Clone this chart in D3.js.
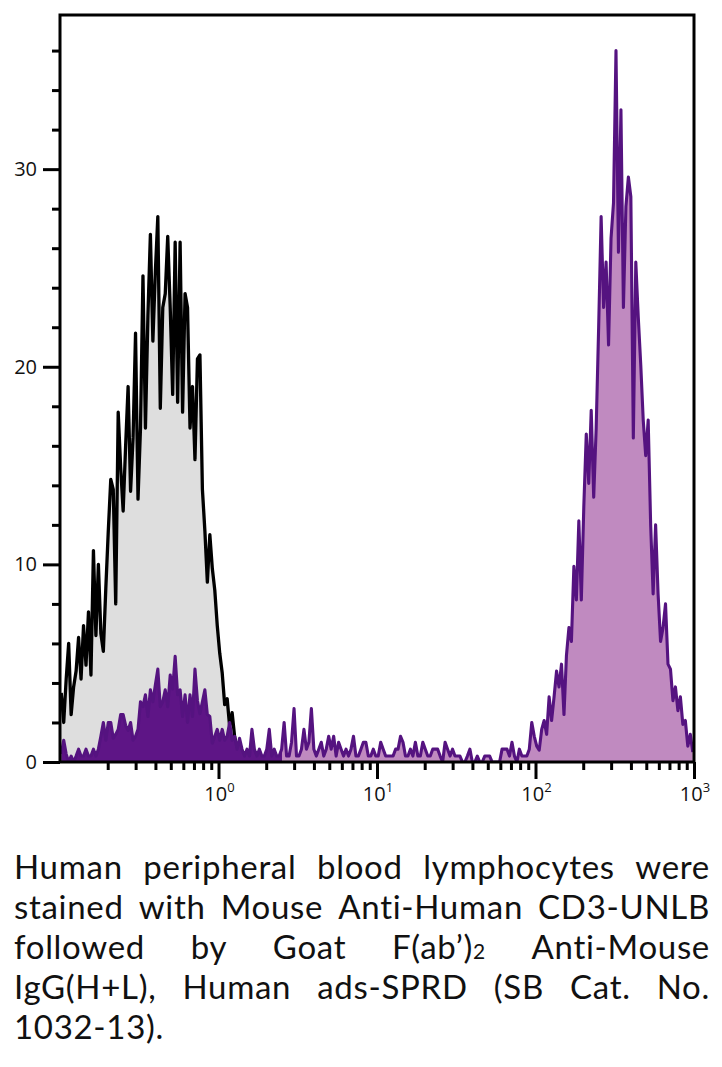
<!DOCTYPE html>
<html><head><meta charset="utf-8">
<script src="https://cdn.jsdelivr.net/npm/d3@7"></script>
<style>body{margin:0;background:#fff} svg{display:block}</style>
</head><body>
<script>
// ---- data ----
const binsPerDecade = 64;
const xDomain = [0.1, 1000];
const yDomain = [0, 37.8];
const yMajorTicks = [0, 10, 20, 30];
const yMinorTicks = [2, 4, 6, 8, 12, 14, 16, 18, 22, 24, 26, 28, 32, 34, 36];
const xMajorTicks = [1, 10, 100, 1000];
const xMajorExponents = ["0", "1", "2", "3"];
const xMinorTicks = [0.2,0.3,0.4,0.5,0.6,0.7,0.8,0.9, 2,3,4,5,6,7,8,9, 20,30,40,50,60,70,80,90, 200,300,400,500,600,700,800,900];

// isotype control (black outline, grey fill), counts per bin from the left edge
const controlCounts = [
 3.5,2.0,4.2,6.0,2.4,3.8,4.6,6.3,4.2,6.9,
 4.9,7.6,4.4,10.7,6.4,10.0,6.5,5.6,8.8,11.7,
 14.3,13.8,8.0,17.7,14.9,12.7,16.0,19.0,13.7,16.4,
 21.7,13.3,16.9,24.6,16.9,22.6,26.7,21.3,24.8,27.6,
 17.9,23.0,23.7,26.6,23.0,18.6,26.3,18.2,26.3,17.7,
 23.7,23.0,16.9,19.0,15.3,20.4,20.6,13.8,11.7,9.1,
 11.5,9.8,8.7,6.9,5.5,4.5,2.9,3.2,1.8,2.5,
 1.3,0.7,0
];
// CD3 stained (purple)
const stainedCounts = [
 0.4,1.1,0.4,0,0.3,0,0.3,0.65,0.3,0.3,
 0.65,0.3,0.3,0.65,0.3,0.65,1.3,2.0,1.1,2.0,
 2.0,1.2,1.4,1.65,2.4,2.4,1.85,1.6,2.0,1.1,
 1.3,1.65,3.05,2.8,3.4,2.3,3.65,3.05,3.9,4.7,
 2.8,3.05,3.65,2.8,4.4,3.7,5.35,3.4,3.65,2.3,
 3.4,2.0,3.4,2.3,4.7,3.1,2.45,3.05,3.65,2.4,
 2.3,0.95,1.3,1.65,1.1,1.65,1.1,1.3,2.0,1.1,
 1.3,0.65,1.2,0.65,0.3,0.65,0.3,1.65,0.65,0.3,
 0.65,0.3,0.3,0.65,1.65,0.3,0.65,0.3,0.3,0.65,
 2.0,0.3,0.3,1.0,2.7,0.3,0.3,0.65,1.65,0.65,
 1.0,2.7,0.65,0.3,0.65,1.0,0.3,0.65,1.3,0.65,
 1.3,0.3,1.0,0.65,0.3,0.65,0.3,0.65,1.3,0.3,
 0.3,0.65,1.0,1.0,0.3,0.3,0.65,0.3,0.3,1.0,
 0.65,0.3,0.3,0.3,0.3,0.65,0.65,1.3,1.0,0.3,
 0.3,0.65,0.3,1.0,0.3,0.3,1.0,0.65,0.3,0.3,
 0.65,0.65,0.65,0.3,0,1.0,0.65,0.3,0.65,0.3,
 0.3,0.3,0,0,0.3,0.65,0,0,0.3,0,
 0,0.3,0.3,0.3,0,0,0,0,0.65,0.65,
 0.65,0.3,1.0,0.3,0,0.65,0.3,0.3,0.3,0.65,
 2.0,1.3,0.8,0.6,1.65,2.1,1.4,3.3,2.1,3.3,
 4.6,3.8,4.95,2.4,5.4,6.8,6.1,9.9,8.2,12.2,
 8.2,12.9,16.6,14.1,17.8,13.4,16.9,22.0,27.6,23.0,
 25.3,21.1,26.5,28.3,36.0,25.8,33.0,23.0,28.1,29.6,
 28.6,16.4,25.3,22.5,20.1,17.3,15.5,17.3,12.0,8.5,
 12.0,8.5,6.1,6.8,8.0,4.95,4.7,3.1,3.8,2.6,
 3.3,1.9,2.1,0.8,1.4,0.5
];

const captionLines = [
 "Human peripheral blood lymphocytes were",
 "stained with Mouse Anti-Human CD3-UNLB",
 "followed by Goat F(ab\u2019)\u2082 Anti-Mouse",
 "IgG(H+L), Human ads-SPRD (SB Cat. No.",
 "1032-13)."
];

// ---- drawing ----
const W = 722, H = 1067;
const FONT = "'Open Sans', 'Noto Sans', sans-serif";
const CAPFONT = "Lato, 'Open Sans', sans-serif";
const svg = d3.select("body").append("svg").attr("width", W).attr("height", H);

const plot = {left: 60, right: 694, top: 15, bottom: 762};
const x = d3.scaleLog().domain(xDomain).range([plot.left, plot.right]);
const y = d3.scaleLinear().domain(yDomain).range([plot.bottom, plot.top]);
const binCenter = i => xDomain[0] * Math.pow(10, (i + 0.5) / binsPerDecade);

const defs = svg.append("defs");
defs.append("clipPath").attr("id", "clip").append("rect")
  .attr("x", plot.left).attr("y", plot.top)
  .attr("width", plot.right - plot.left).attr("height", plot.bottom - plot.top);
const grad = defs.append("linearGradient").attr("id", "pfill")
  .attr("gradientUnits", "userSpaceOnUse")
  .attr("x1", plot.left).attr("x2", plot.right).attr("y1", 0).attr("y2", 0);
const split = (x(2.5) - plot.left) / (plot.right - plot.left);
grad.append("stop").attr("offset", 0).attr("stop-color", "#5e1586");
grad.append("stop").attr("offset", split).attr("stop-color", "#5e1586");
grad.append("stop").attr("offset", split).attr("stop-color", "#c08ac0");
grad.append("stop").attr("offset", 1).attr("stop-color", "#c08ac0");

const area = d3.area().x((d, i) => x(binCenter(i))).y0(y(0)).y1(d => y(d));
const line = d3.line().x((d, i) => x(binCenter(i))).y(d => y(d));

const g = svg.append("g").attr("clip-path", "url(#clip)");
g.append("path").datum(controlCounts).attr("d", area).attr("fill", "#dedede");
g.append("path").datum(controlCounts).attr("d", line).attr("fill", "none")
  .attr("stroke", "#000").attr("stroke-width", 3.3).attr("stroke-linejoin", "round");
g.append("path").datum(stainedCounts).attr("d", area).attr("fill", "url(#pfill)");
g.append("path").datum(stainedCounts).attr("d", line).attr("fill", "none")
  .attr("stroke", "#551380").attr("stroke-width", 3.1).attr("stroke-linejoin", "round");

// frame
svg.append("rect").attr("x", plot.left).attr("y", plot.top)
  .attr("width", plot.right - plot.left).attr("height", plot.bottom - plot.top)
  .attr("fill", "none").attr("stroke", "#000").attr("stroke-width", 3);

// y axis
const yMaj = svg.append("g").attr("transform", `translate(${plot.left},0)`)
  .call(d3.axisLeft(y).tickValues(yMajorTicks).tickSize(17).tickPadding(6).tickFormat(d3.format("d")));
const yMin = svg.append("g").attr("transform", `translate(${plot.left},0)`)
  .call(d3.axisLeft(y).tickValues(yMinorTicks).tickSize(8).tickFormat(""));
// x axis
const xMaj = svg.append("g").attr("transform", `translate(0,${plot.bottom})`)
  .call(d3.axisBottom(x).tickValues(xMajorTicks).tickSize(17).tickFormat(""));
const xMin = svg.append("g").attr("transform", `translate(0,${plot.bottom})`)
  .call(d3.axisBottom(x).tickValues(xMinorTicks).tickSize(8).tickFormat(""));
[yMaj, yMin, xMaj, xMin].forEach(a => {
  a.select(".domain").remove();
  a.selectAll(".tick line").attr("stroke", "#000").attr("stroke-width", 3);
});
yMaj.selectAll(".tick text").attr("font-family", FONT).attr("font-size", 20).attr("fill", "#111");

const xl = svg.append("g").attr("font-family", FONT).attr("fill", "#111");
xMajorTicks.forEach((v, i) => {
  const t = xl.append("text").attr("x", x(v) + 1).attr("y", 801).attr("text-anchor", "middle").attr("font-size", 20);
  t.append("tspan").text("10");
  t.append("tspan").attr("font-size", 13).attr("dy", -9).text(xMajorExponents[i]);
});

// caption (justified)
const capLeft = 14, capRight = 710, base0 = 879, lead = 40;
const cap = svg.append("g").attr("font-family", CAPFONT).attr("font-size", 33)
  .attr("letter-spacing", 0.7).attr("fill", "#111");
captionLines.forEach((ln, li) => {
  const yb = base0 + li * lead;
  const words = ln.split(" ");
  const nodes = words.map(w => {
    const t = cap.append("text").attr("y", yb);
    const parts = w.split("\u2082");
    t.append("tspan").text(parts[0]);
    if (parts.length > 1) {
      t.append("tspan").attr("font-size", 21).text("2");
      if (parts[1]) t.append("tspan").text(parts[1]);
    }
    return t;
  });
  const widths = nodes.map(n => n.node().getComputedTextLength());
  const total = d3.sum(widths);
  const last = li === captionLines.length - 1;
  const gap = (last || nodes.length < 2) ? 9 : (capRight - capLeft - total) / (nodes.length - 1);
  let cx = capLeft;
  nodes.forEach((n, k) => { n.attr("x", cx); cx += widths[k] + gap; });
});
</script>
</body></html>
